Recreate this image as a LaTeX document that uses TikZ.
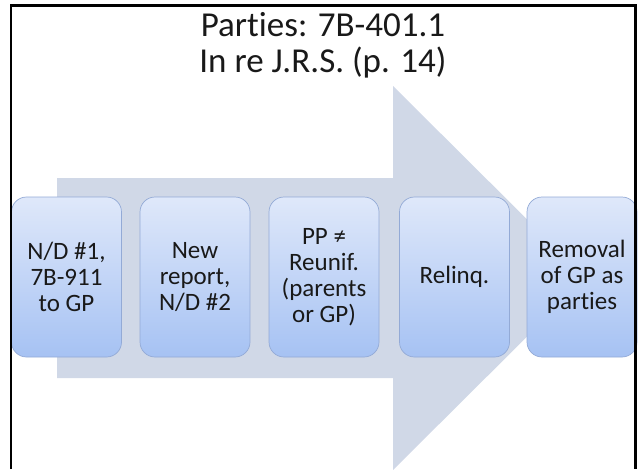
\documentclass[tikz,border=0pt]{standalone}
\usepackage{fontspec}
\setmainfont{Carlito}[Ligatures=NoCommon]
\definecolor{arrowfill}{HTML}{D0D8E7}
\definecolor{boxtop}{HTML}{DFE8FA}
\definecolor{boxbot}{HTML}{A6C2F3}
\definecolor{boxline}{HTML}{93AAD6}
\begin{document}
\begin{tikzpicture}[x=1pt,y=-1pt,
  stage/.style={rounded corners=15pt, draw=boxline, line width=0.7pt,
    top color=boxtop, bottom color=boxbot,
    minimum width=110pt, minimum height=160pt, inner sep=2pt,
    align=center, font=\fontsize{25}{26}\selectfont, text=black!90},
  heading/.style={anchor=base, font=\fontsize{35}{36}\selectfont, text=black!90}]
\useasboundingbox (0,0) rectangle (640,469);

% background process arrow
\fill[arrowfill] (57,178) -- (393,178) -- (393,86) -- (586,278)
  -- (393,470) -- (393,378) -- (57,378) -- cycle;

% title
\node[heading] (t1) at (323,36) {Parties: 7B-401.1};
\node[heading] (t2) at (323,72) {In re J.R.S. (p. 14)};

% stages
\node[stage] (b1) at (66.5,277) {N/D \#1,\\7B-911\\to GP};
\node[stage] (b2) at (195,277) {New\\report,\\N/D \#2};
\node[stage] (b3) at (324,277) {PP ≠\\Reunif.\\(parents\\or GP)};
\node[stage] (b4) at (454.5,277) {Relinq.};
\node[stage] (b5) at (582,277) {Removal\\of GP as\\parties};

% frame
\draw[line width=2.6pt] (11,469) -- (11,5.5) -- (635.5,5.5) -- (635.5,469);
\end{tikzpicture}
\end{document}
